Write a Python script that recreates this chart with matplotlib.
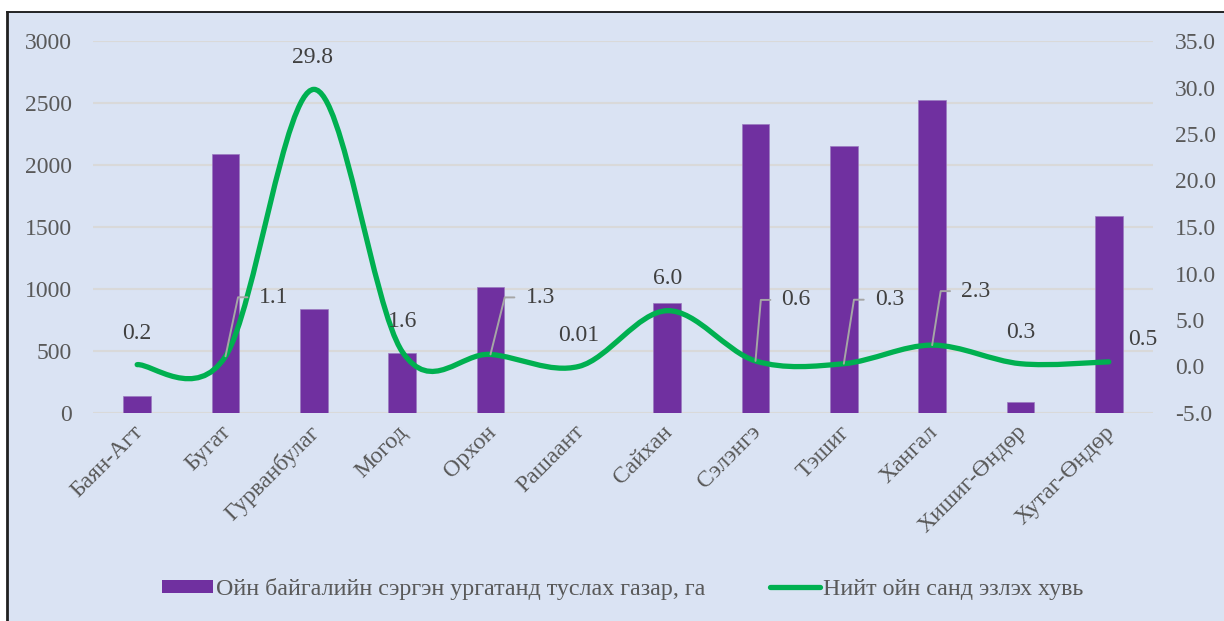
import matplotlib
matplotlib.use("Agg")
import matplotlib.pyplot as plt
from matplotlib.path import Path
from matplotlib.patches import PathPatch, Rectangle, Patch
from matplotlib.lines import Line2D
from matplotlib.transforms import ScaledTranslation
import numpy as np

plt.rcParams["font.family"] = ["Liberation Serif", "DejaVu Serif"]

# --- data -------------------------------------------------------------
districts = ["Баян-Агт", "Бугат", "Гурванбулаг", "Могод", "Орхон", "Рашаант",
             "Сайхан", "Сэлэнгэ", "Тэшиг", "Хангал", "Хишиг-Өндөр", "Хутаг-Өндөр"]
area_ha = [140, 2090, 840, 480, 1020, 0, 885, 2330, 2150, 2525, 90, 1590]
forest_share = [0.2, 1.1, 29.8, 1.6, 1.3, 0.01, 6.0, 0.6, 0.3, 2.3, 0.3, 0.5]
share_labels = ["0.2", "1.1", "29.8", "1.6", "1.3", "0.01", "6.0", "0.6", "0.3", "2.3", "0.3", "0.5"]

left_ticks = [0, 500, 1000, 1500, 2000, 2500, 3000]
right_ticks = [-5, 0, 5, 10, 15, 20, 25, 30, 35]
right_tick_labels = ["-5.0", "0.0", "5.0", "10.0", "15.0", "20.0", "25.0", "30.0", "35.0"]

bar_name = "Ойн байгалийн сэргэн ургатанд туслах газар, га"
line_name = "Нийт ойн санд эзлэх хувь"

# --- styling ----------------------------------------------------------
BAR = "#7030A0"
LINE = "#00B050"
BG = "#DAE3F3"
GRID = "#D9D9D9"
TICK = "#595959"
LABEL = "#404040"
LEADER = "#A6A6A6"
FS = 17

W, H = 1224, 621
fig = plt.figure(figsize=(W / 100, H / 100), dpi=100)
fig.patch.set_facecolor("white")

# chart frame (left and top edges visible)
fig.patches.append(Rectangle((7 / W, 0), 1 - 7 / W, 1 - 12 / H, transform=fig.transFigure,
                             facecolor=BG, edgecolor="none", zorder=-2))
fig.add_artist(Line2D([7 / W, 1], [1 - 12 / H, 1 - 12 / H], transform=fig.transFigure,
                      color="black", lw=1.2, zorder=-1))
fig.add_artist(Line2D([7 / W, 7 / W], [0, 1 - 12 / H], transform=fig.transFigure,
                      color="#202020", lw=2.0, zorder=-1))

L, R, T, B = 93, 1153, 41, 413
ax = fig.add_axes([L / W, 1 - B / H, (R - L) / W, (B - T) / H])
ax.patch.set_visible(False)

x = np.arange(len(districts))
ax.bar(x, area_ha, width=0.31, color=BAR, edgecolor="#9B7BC0", linewidth=0.5, zorder=2)
ax.set_xlim(-0.5, len(districts) - 0.5)
ax.set_ylim(0, 3000)
ax.set_yticks(left_ticks)
ax.set_yticklabels([str(t) for t in left_ticks])
ax.grid(axis="y", color=GRID, lw=1.5, zorder=0)
ax.set_axisbelow(True)
for s in ax.spines.values():
    s.set_visible(False)
ax.tick_params(axis="y", length=0, pad=15, labelsize=FS, labelcolor=TICK)
ax.tick_params(axis="x", length=0, pad=6, labelsize=FS, labelcolor=TICK)
ax.set_xticks(x)
ax.set_xticklabels(districts, rotation=45, ha="right", va="top", rotation_mode="anchor")
shift = ScaledTranslation(-5 / 100, 0, fig.dpi_scale_trans)
for lbl in ax.get_xticklabels():
    lbl.set_transform(lbl.get_transform() + shift)

ax2 = ax.twinx()
ax2.set_ylim(-5, 35)
ax2.set_yticks(right_ticks)
ax2.set_yticklabels(right_tick_labels)
for s in ax2.spines.values():
    s.set_visible(False)
ax2.tick_params(axis="y", length=0, pad=16, labelsize=FS, labelcolor=TICK)

# smoothed line: Catmull-Rom segments as cubic Bezier curves
pts = np.column_stack([x, forest_share]).astype(float)
verts = [tuple(pts[0])]
codes = [Path.MOVETO]
n = len(pts)
for i in range(n - 1):
    p0 = pts[max(i - 1, 0)]
    p1 = pts[i]
    p2 = pts[i + 1]
    p3 = pts[min(i + 2, n - 1)]
    c1 = p1 + (p2 - p0) / 6.0
    c2 = p2 - (p3 - p1) / 6.0
    verts += [tuple(c1), tuple(c2), tuple(p2)]
    codes += [Path.CURVE4] * 3
ax2.add_patch(PathPatch(Path(verts, codes), fill=False, edgecolor=LINE, lw=3.8,
                        capstyle="round", joinstyle="round", zorder=3))

# data labels: (dx, dy) pixel offset of label from the point, leader-line angle
label_pos = [(0, 31, None), (33, 59, 78), (-1, 32, None), (0, 30, None), (35, 57, 76),
             (0, 31, None), (0, 32, None), (26, 61, 85), (31, 64, 81), (29, 54, 81),
             (0, 31, None), (34, 22, None)]
for xi, v, txt, (dx, dy, ang) in zip(x, forest_share, share_labels, label_pos):
    if ang is None:
        ax2.annotate(txt, (xi, v), xytext=(dx, dy), textcoords="offset pixels",
                     ha="center", va="center", fontsize=FS, color=LABEL, zorder=5)
    else:
        ax2.annotate(txt, (xi, v), xytext=(dx, dy), textcoords="offset pixels",
                     ha="left", va="center", fontsize=FS, color=LABEL, zorder=5,
                     arrowprops=dict(arrowstyle="-", color=LEADER, lw=1.4,
                                     connectionstyle=f"angle,angleA=0,angleB={ang},rad=0",
                                     relpos=(0, 0.5), shrinkA=6, shrinkB=0))

handles = [Patch(facecolor=BAR, edgecolor="none"),
           Line2D([], [], color=LINE, lw=3.8, solid_capstyle="round")]
fig.legend(handles, [bar_name, line_name], loc="center", bbox_to_anchor=(623 / W, 1 - 589 / H),
           ncol=2, frameon=False, fontsize=17.3, labelcolor=TICK, handlelength=2.1,
           handleheight=0.5, handletextpad=0.12, columnspacing=2.7, borderpad=0)

fig.savefig("out.png", dpi=100)
